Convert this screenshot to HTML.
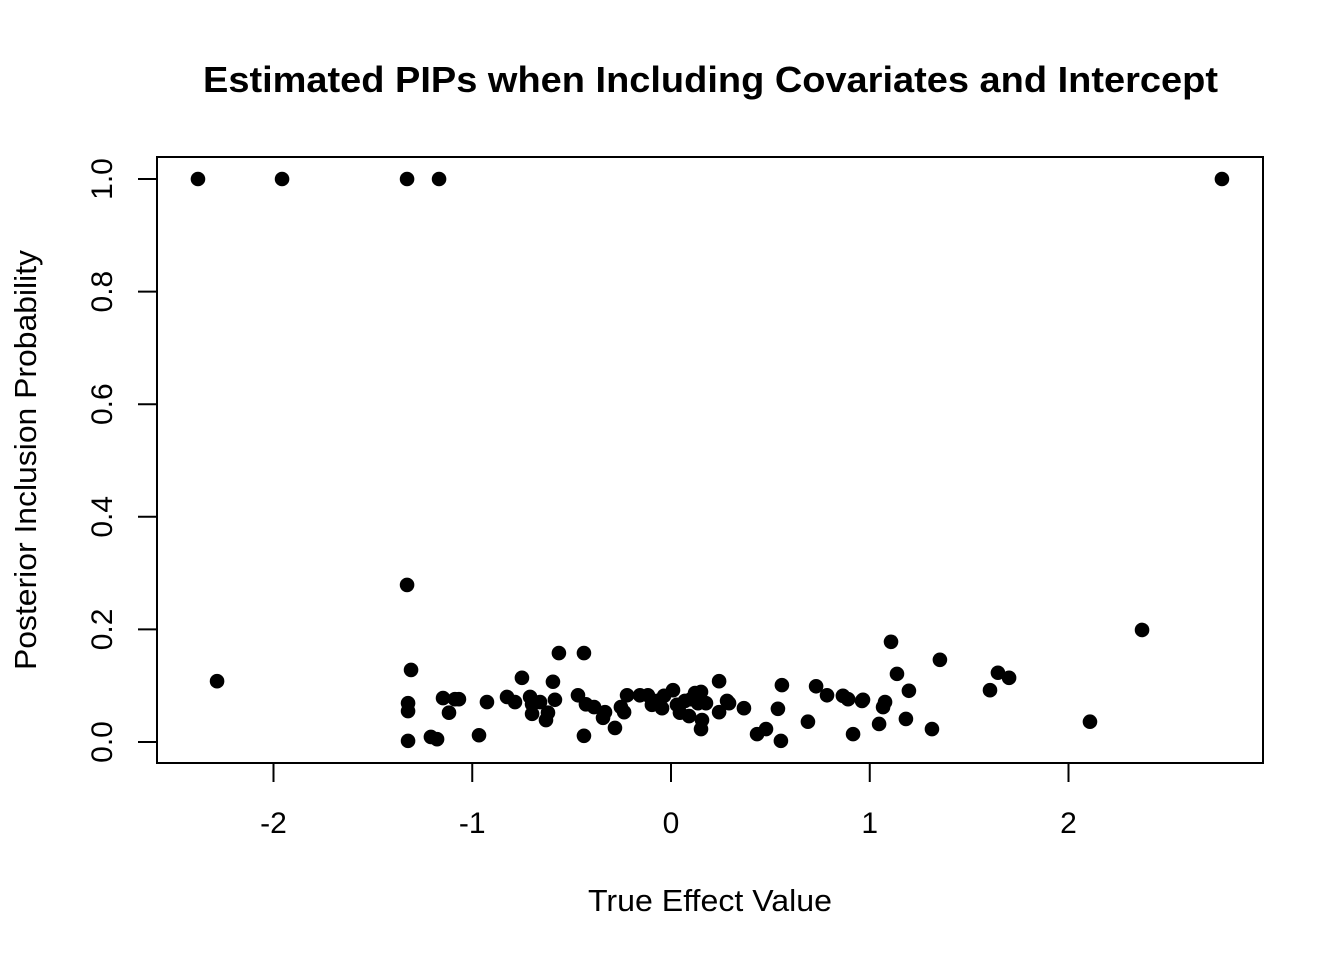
<!DOCTYPE html>
<html><head><meta charset="utf-8">
<style>
html,body{margin:0;padding:0;background:#fff;}
svg{display:block;font-family:"Liberation Sans",Arial,sans-serif;}
</style></head>
<body>
<svg id="chart" width="1344" height="960" viewBox="0 0 1344 960" xmlns="http://www.w3.org/2000/svg">
<rect width="1344" height="960" fill="#fff"/>
<text x="203" y="92" textLength="1015" lengthAdjust="spacingAndGlyphs" font-size="36" font-weight="bold">Estimated PIPs when Including Covariates and Intercept</text>
<rect x="157" y="157" width="1106" height="606" fill="none" stroke="#000" stroke-width="2"/>
<text x="588" y="911" textLength="244" lengthAdjust="spacingAndGlyphs" font-size="31">True Effect Value</text>
<text transform="translate(36,670) rotate(-90)" textLength="420" lengthAdjust="spacingAndGlyphs" font-size="31">Posterior Inclusion Probability</text>
<g id="xaxis"></g>
<g id="yaxis"></g>
<g id="points"></g>
</svg>
<script>
const xTicks = [-2,-1,0,1,2];
const xTickLabels = ["-2","-1","0","1","2"];
const yTicks = [0,0.2,0.4,0.6,0.8,1.0];
const yTickLabels = ["0.0","0.2","0.4","0.6","0.8","1.0"];
const effectX = [-2.380,-1.957,-1.328,-1.167,2.772,-2.284,-1.328,-1.308,-1.323,-1.323,-1.323,-1.208,-1.177,-1.147,-1.117,-1.087,-1.067,-0.966,-0.926,-0.825,-0.785,-0.750,-0.709,-0.699,-0.699,-0.659,-0.629,-0.619,-0.594,-0.584,-0.564,-0.468,-0.438,-0.438,-0.428,-0.387,-0.342,-0.332,-0.282,-0.252,-0.236,-0.221,-0.156,-0.116,-0.096,-0.070,-0.045,-0.035,0.010,0.030,0.045,0.070,0.091,0.101,0.121,0.136,0.151,0.151,0.156,0.176,0.242,0.242,0.282,0.292,0.367,0.433,0.478,0.538,0.553,0.558,0.689,0.730,0.785,0.865,0.891,0.916,0.961,0.966,1.047,1.067,1.077,1.107,1.137,1.182,1.197,1.313,1.353,1.605,1.645,1.701,2.108,2.370];
const pipY = [1.0,1.0,1.0,1.0,1.0,0.108,0.279,0.128,0.069,0.055,0.002,0.009,0.005,0.078,0.052,0.076,0.076,0.012,0.071,0.080,0.071,0.114,0.080,0.050,0.067,0.071,0.039,0.052,0.107,0.075,0.158,0.083,0.158,0.011,0.067,0.062,0.043,0.053,0.025,0.062,0.053,0.083,0.083,0.083,0.066,0.073,0.060,0.082,0.092,0.066,0.052,0.073,0.046,0.076,0.087,0.069,0.089,0.023,0.039,0.069,0.108,0.053,0.073,0.069,0.060,0.014,0.023,0.059,0.002,0.101,0.036,0.099,0.083,0.082,0.076,0.014,0.073,0.075,0.032,0.062,0.071,0.178,0.121,0.041,0.091,0.023,0.146,0.092,0.123,0.114,0.036,0.199];

const NS='http://www.w3.org/2000/svg';
function xs(v){return 671 + v*198.75;}
function ys(v){return 742 - v*563;}
function mk(tag,attrs){const e=document.createElementNS(NS,tag);for(const k in attrs)e.setAttribute(k,attrs[k]);return e;}

const xg=document.getElementById('xaxis');
xTicks.forEach((t,i)=>{
  const l=mk('line',{x1:xs(t),x2:xs(t),y1:763,y2:782,stroke:'#000','stroke-width':2});
  
  
  xg.appendChild(l);
  const tx=mk('text',{x:xs(t),y:833,'text-anchor':'middle','font-size':30});
  
  
  tx.textContent=xTickLabels[i];
  xg.appendChild(tx);
});
const yg=document.getElementById('yaxis');
yTicks.forEach((t,i)=>{
  const l=mk('line',{x1:138,x2:157,y1:ys(t),y2:ys(t),stroke:'#000','stroke-width':2});
  
  
  yg.appendChild(l);
  const tx=mk('text',{transform:'translate(112,'+ys(t)+') rotate(-90)','text-anchor':'middle','font-size':30});
  
  
  tx.textContent=yTickLabels[i];
  yg.appendChild(tx);
});
const pg=document.getElementById('points');
effectX.forEach((x,i)=>{
  const c=mk('circle',{cx:xs(x),cy:ys(pipY[i]),r:7.3,fill:'#000'});
  
  
  pg.appendChild(c);
});
</script>
</body></html>
